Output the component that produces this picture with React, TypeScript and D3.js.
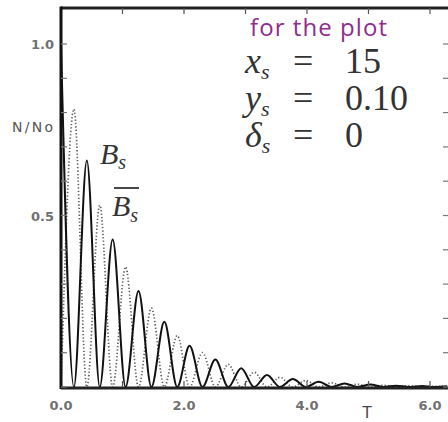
import React from "react";
import * as d3 from "d3";

// Peak positions (T) and heights (N/N0) of the unmixed B_s curve
const unmixedT = [0, 0.42, 0.84, 1.26, 1.68, 2.09, 2.51, 2.93, 3.35, 3.77, 4.19, 4.61, 5.03, 5.45, 5.87, 6.28];
const unmixedN = [1.0, 0.66, 0.43, 0.28, 0.19, 0.12, 0.08, 0.055, 0.035, 0.023, 0.015, 0.01, 0.007, 0.004, 0.003, 0.002];
// Peak positions and heights of the mixed (B̄_s) curve
const mixedT = [0.21, 0.63, 1.05, 1.47, 1.89, 2.3, 2.72, 3.14, 3.56, 3.98, 4.4, 4.82, 5.24, 5.66, 6.07];
const mixedN = [0.81, 0.53, 0.35, 0.23, 0.15, 0.1, 0.066, 0.043, 0.028, 0.019, 0.012, 0.008, 0.005, 0.0035, 0.002];

const xTickLabels = ["0.0", "2.0", "4.0", "6.0"];
const yTickLabels = ["0.5", "1.0"];
const paramLines = [
  { sym: "x", val: "15" },
  { sym: "y", val: "0.10" },
  { sym: "δ", val: "0" },
];

const W = 448;
const H = 422;
const left = 61;
const right = 449;
const top = 8;
const bottom = 387;

export default function App() {
  const x = d3.scaleLinear().domain([0, 6]).range([left, 430]);
  const y = d3.scaleLinear().domain([0, 1]).range([bottom, 44]);

  // Build each curve: its own peaks plus zeros at the other curve's peaks
  const unmixedPts: [number, number][] = [
    ...unmixedT.map((t, i) => [t, unmixedN[i]] as [number, number]),
    ...mixedT.map((t) => [t, 0] as [number, number]),
  ].sort((a, b) => a[0] - b[0]);
  const mixedPts: [number, number][] = [
    [0, 0] as [number, number],
    ...mixedT.map((t, i) => [t, mixedN[i]] as [number, number]),
    ...unmixedT.filter((t) => t > 0).map((t) => [t, 0] as [number, number]),
  ].sort((a, b) => a[0] - b[0]);

  const line = d3
    .line<[number, number]>()
    .x((d) => x(d[0]))
    .y((d) => y(d[1]))
    .curve(d3.curveMonotoneX);

  const minorY = d3.range(0, 11).map((i) => i / 10);
  const topTicks = d3.range(1, 7);
  const bottomTicks = d3.range(1, 7);

  const serif = "'Liberation Serif', 'DejaVu Serif', serif";
  const sans = "'DejaVu Sans', sans-serif";

  return (
    <svg
      width={W}
      height={H}
      style={{ position: "absolute", left: 0, top: 0, background: "#fff" }}
    >
      <defs>
        <clipPath id="plotArea">
          <rect x={left} y={top} width={right - left} height={bottom - top + 2} />
        </clipPath>
      </defs>

      {/* curves */}
      <g clipPath="url(#plotArea)">
        <path
          d={line(mixedPts) || ""}
          fill="none"
          stroke="#5e5e5e"
          strokeWidth={1.7}
          strokeDasharray="1.3 2.1"
        />
        <path d={line(unmixedPts) || ""} fill="none" stroke="#111" strokeWidth={2} />
      </g>

      {/* frame */}
      <line x1={left} x2={right} y1={top} y2={top} stroke="#222" strokeWidth={3} />
      <line x1={left} x2={left} y1={top - 1.5} y2={bottom + 2} stroke="#111" strokeWidth={3} />
      <line x1={left} x2={right} y1={bottom + 1} y2={bottom + 1} stroke="#222" strokeWidth={3} />

      {/* ticks */}
      {minorY.map((v) => (
        <g key={"yt" + v}>
          <line x1={left} x2={left + 6} y1={y(v)} y2={y(v)} stroke="#777" strokeWidth={1.2} />
          <line x1={W - 5} x2={W} y1={y(v)} y2={y(v)} stroke="#777" strokeWidth={1.2} />
        </g>
      ))}
      {topTicks.map((t) => (
        <line key={"tt" + t} x1={x(t)} x2={x(t)} y1={top} y2={top + 6} stroke="#555" strokeWidth={1.2} />
      ))}
      {bottomTicks.map((t) => (
        <line key={"bt" + t} x1={x(t)} x2={x(t)} y1={bottom} y2={bottom - 6} stroke="#555" strokeWidth={1.2} />
      ))}

      {/* tick labels */}
      {xTickLabels.map((s) => (
        <text
          key={"xl" + s}
          x={x(parseFloat(s))}
          y={410}
          textAnchor="middle"
          fontFamily={sans}
          fontSize={13}
          fontWeight="bold"
          fill="#707070"
        >
          {s}
        </text>
      ))}
      {yTickLabels.map((s) => (
        <text
          key={"yl" + s}
          x={54}
          y={y(parseFloat(s)) + 5}
          textAnchor="end"
          fontFamily={sans}
          fontSize={13}
          fontWeight="bold"
          fill="#707070"
        >
          {s}
        </text>
      ))}

      {/* axis titles */}
      <text x={12} y={132} fontFamily={sans} fontSize={14} fill="#555" textLength={41}>
        N/No
      </text>
      <text x={367} y={418} textAnchor="middle" fontFamily={sans} fontSize={15} fill="#444">
        T
      </text>

      {/* curve labels */}
      <text x={100} y={164} fontFamily={serif} fontStyle="italic" fontSize={30} fill="#333">
        B
        <tspan fontSize={20} dy={5}>s</tspan>
      </text>
      <line x1={114} x2={139} y1={188} y2={188} stroke="#333" strokeWidth={1.8} />
      <text x={112} y={216} fontFamily={serif} fontStyle="italic" fontSize={30} fill="#333">
        B
        <tspan fontSize={20} dy={6}>s</tspan>
      </text>

      {/* parameter box */}
      <text x={250} y={36} fontFamily="'Open Sans', sans-serif" fontSize={24} fill="#912c8f" textLength={137}>
        for the plot
      </text>
      {paramLines.map((p, i) => {
        const by = 73 + i * 37;
        return (
          <g key={p.sym}>
            <text x={245} y={by} fontFamily={serif} fontStyle="italic" fontSize={36} fill="#333">
              {p.sym}
              <tspan fontSize={22} dy={6}>s</tspan>
            </text>
            <text x={293} y={by} fontFamily={serif} fontSize={36} fill="#333">
              =
            </text>
            <text x={345} y={by} fontFamily={serif} fontSize={36} fill="#333">
              {p.val}
            </text>
          </g>
        );
      })}
    </svg>
  );
}
